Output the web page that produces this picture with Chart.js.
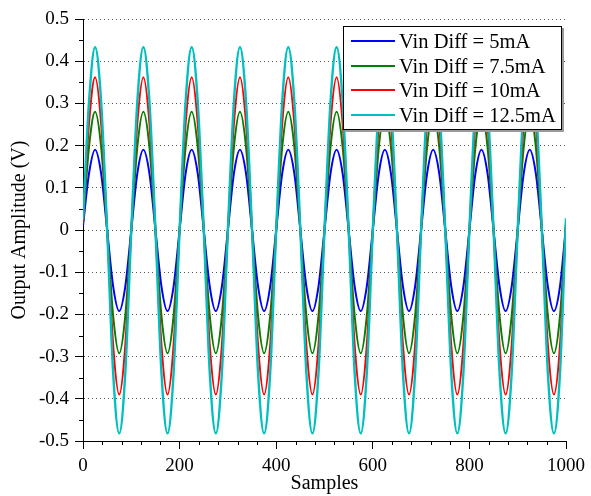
<!DOCTYPE html>
<html><head><meta charset="utf-8">
<script src="https://cdn.jsdelivr.net/npm/chart.js@4.4.0/dist/chart.umd.min.js"></script>
<style>
html,body{margin:0;padding:0;background:#fff;}
#wrap{position:relative;width:591px;height:496px;}
#legend{position:absolute;left:343px;top:26px;width:217px;height:102px;border:1px solid #000;background:#fff;box-shadow:2px 2px 0 #9a9a9a;font-family:'Liberation Serif',serif;font-size:20.5px;color:#000;}
.row{position:absolute;left:0;height:24px;line-height:24px;white-space:nowrap}
.sw{position:absolute;left:7px;top:11px;width:44px;height:2px}
.lb{position:absolute;left:55px;top:0}
</style></head>
<body><div id="wrap"><canvas id="c" width="591" height="496"></canvas><div id="legend"></div></div>
<script>
const samples = [
  0,12.5,25,37.5,50,62.5,75,87.5,
  100,112.5,125,137.5,150,162.5,175,187.5,
  200,212.5,225,237.5,250,262.5,275,287.5,
  300,312.5,325,337.5,350,362.5,375,387.5,
  400,412.5,425,437.5,450,462.5,475,487.5,
  500,512.5,525,537.5,550,562.5,575,587.5,
  600,612.5,625,637.5,650,662.5,675,687.5,
  700,712.5,725,737.5,750,762.5,775,787.5,
  800,812.5,825,837.5,850,862.5,875,887.5,
  900,912.5,925,937.5,950,962.5,975,987.5,
  1000
];
const seriesNames = ['Vin Diff = 5mA','Vin Diff = 7.5mA','Vin Diff = 10mA','Vin Diff = 12.5mA'];
const seriesColors = ['#0000ff','#008000','#ff0000','#00bfbf'];
const vin5mA = [
  0.01,0.134,0.19,0.134,0,-0.134,-0.192,-0.134,
  0,0.134,0.19,0.134,0,-0.134,-0.192,-0.134,
  0,0.134,0.19,0.134,0,-0.134,-0.192,-0.134,
  0,0.134,0.19,0.134,0,-0.134,-0.192,-0.134,
  0,0.134,0.19,0.134,0,-0.134,-0.192,-0.134,
  0,0.134,0.19,0.134,0,-0.134,-0.192,-0.134,
  0,0.134,0.19,0.134,0,-0.134,-0.192,-0.134,
  0,0.134,0.19,0.134,0,-0.134,-0.192,-0.134,
  0,0.134,0.19,0.134,0,-0.134,-0.192,-0.134,
  0,0.134,0.19,0.134,0,-0.134,-0.192,-0.134,
  0.01
];
const vin7_5mA = [
  0.015,0.197,0.28,0.197,0,-0.204,-0.292,-0.204,
  0,0.197,0.28,0.197,0,-0.204,-0.292,-0.204,
  0,0.197,0.28,0.197,0,-0.204,-0.292,-0.204,
  0,0.197,0.28,0.197,0,-0.204,-0.292,-0.204,
  0,0.197,0.28,0.197,0,-0.204,-0.292,-0.204,
  0,0.197,0.28,0.197,0,-0.204,-0.292,-0.204,
  0,0.197,0.28,0.197,0,-0.204,-0.292,-0.204,
  0,0.197,0.28,0.197,0,-0.204,-0.292,-0.204,
  0,0.197,0.28,0.197,0,-0.204,-0.292,-0.204,
  0,0.197,0.28,0.197,0,-0.204,-0.292,-0.204,
  0.015
];
const vin10mA = [
  0.02,0.253,0.362,0.253,0,-0.274,-0.39,-0.274,
  0,0.253,0.362,0.253,0,-0.274,-0.39,-0.274,
  0,0.253,0.362,0.253,0,-0.274,-0.39,-0.274,
  0,0.253,0.362,0.253,0,-0.274,-0.39,-0.274,
  0,0.253,0.362,0.253,0,-0.274,-0.39,-0.274,
  0,0.253,0.362,0.253,0,-0.274,-0.39,-0.274,
  0,0.253,0.362,0.253,0,-0.274,-0.39,-0.274,
  0,0.253,0.362,0.253,0,-0.274,-0.39,-0.274,
  0,0.253,0.362,0.253,0,-0.274,-0.39,-0.274,
  0,0.253,0.362,0.253,0,-0.274,-0.39,-0.274,
  0.02
];
const vin12_5mA = [
  0.025,0.305,0.433,0.305,0,-0.34,-0.482,-0.34,
  0,0.305,0.433,0.305,0,-0.34,-0.482,-0.34,
  0,0.305,0.433,0.305,0,-0.34,-0.482,-0.34,
  0,0.305,0.433,0.305,0,-0.34,-0.482,-0.34,
  0,0.305,0.433,0.305,0,-0.34,-0.482,-0.34,
  0,0.305,0.433,0.305,0,-0.34,-0.482,-0.34,
  0,0.305,0.433,0.305,0,-0.34,-0.482,-0.34,
  0,0.305,0.433,0.305,0,-0.34,-0.482,-0.34,
  0,0.305,0.433,0.305,0,-0.34,-0.482,-0.34,
  0,0.305,0.433,0.305,0,-0.34,-0.482,-0.34,
  0.028
];
const seriesValues = [vin5mA, vin7_5mA, vin10mA, vin12_5mA];
const xTickLabels = ['0','200','400','600','800','1000'];
const yTickLabels = ['-0.5','-0.4','-0.3','-0.2','-0.1','0','0.1','0.2','0.3','0.4','0.5'];

const FONT = "'Liberation Serif', 'Times New Roman', serif";

function isMajorX(v){ return xTickLabels.includes(String(Math.round(v))) && Math.abs(v - Math.round(v)) < 1e-6; }
function yLabel(v){
  const r = Math.round(v*10);
  if (Math.abs(v*10 - r) > 1e-6) return '';
  const s = r === 0 ? '0' : (r/10).toFixed(1);
  return yTickLabels.includes(s) ? s : '';
}

const minorTicks = {
  id: 'minorTicks',
  afterDraw(chart){
    const ctx = chart.ctx, xs = chart.scales.x, ys = chart.scales.y;
    ctx.save();
    ctx.strokeStyle = '#000'; ctx.lineWidth = 1;
    ctx.beginPath();
    xs.ticks.forEach(t => {
      if (!isMajorX(t.value)) {
        const px = Math.round(xs.getPixelForValue(t.value)) + 0.5;
        ctx.moveTo(px, xs.top); ctx.lineTo(px, xs.top + 4);
      }
    });
    ys.ticks.forEach(t => {
      if (yLabel(t.value) === '') {
        const py = Math.round(ys.getPixelForValue(t.value)) + 0.5;
        ctx.moveTo(ys.right - 4, py); ctx.lineTo(ys.right, py);
      }
    });
    ctx.stroke();
    ctx.restore();
  }
};

const datasets = seriesNames.map((name, i) => ({
  label: name,
  data: seriesValues[i],
  borderColor: seriesColors[i],
  backgroundColor: seriesColors[i],
  borderWidth: i === 3 ? 2.4 : 2,
  pointRadius: 0,
  cubicInterpolationMode: 'monotone',
  fill: false,
  order: 3 - i
}));

new Chart(document.getElementById('c'), {
  type: 'line',
  data: { labels: samples, datasets },
  plugins: [minorTicks],
  options: {
    responsive: false,
    animation: false,
    events: [],
    layout: { padding: { top: 19, right: 25, left: 0, bottom: 0 } },
    plugins: { legend: { display: false }, tooltip: { enabled: false } },
    scales: {
      x: {
        type: 'linear', min: 0, max: 1000,
        afterFit: s => { s.height = 55; },
        ticks: {
          stepSize: 40, autoSkip: false, maxRotation: 0,
          color: '#000', font: { family: FONT, size: 19 }, padding: 6,
          callback: v => isMajorX(v) ? String(Math.round(v)) : ''
        },
        grid: {
          drawOnChartArea: false, drawTicks: true, tickLength: 8,
          tickColor: c => (c.tick && isMajorX(c.tick.value)) ? '#000' : 'rgba(0,0,0,0)'
        },
        border: { display: true, color: '#000', width: 1 },
        title: { display: true, text: 'Samples', color: '#000', font: { family: FONT, size: 20, lineHeight: 1.2 }, padding: { top: 0, bottom: 0 } }
      },
      y: {
        min: -0.5, max: 0.5,
        afterFit: s => { s.width = 83; },
        ticks: {
          stepSize: 0.05, autoSkip: false,
          color: '#000', font: { family: FONT, size: 19 }, padding: 6,
          callback: v => yLabel(v)
        },
        grid: {
          drawOnChartArea: true, drawTicks: true, tickLength: 8,
          color: c => (c.tick && yLabel(c.tick.value) !== '' && c.tick.value > -0.49) ? '#555' : 'rgba(0,0,0,0)',
          tickColor: c => (c.tick && yLabel(c.tick.value) !== '') ? '#000' : 'rgba(0,0,0,0)'
        },
        border: { display: true, color: '#000', width: 1, dash: [1, 3] },
        title: { display: true, text: 'Output Amplitude (V)', color: '#000', font: { family: FONT, size: 20, lineHeight: 1.2 }, padding: { top: 8, bottom: 0 } }
      }
    }
  }
});

const lg = document.getElementById('legend');
seriesNames.forEach((name, i) => {
  const row = document.createElement('div');
  row.className = 'row';
  row.style.top = (2 + i * 24.7) + 'px';
  const sw = document.createElement('span');
  sw.className = 'sw'; sw.style.background = seriesColors[i];
  const lb = document.createElement('span');
  lb.className = 'lb'; lb.textContent = name;
  row.appendChild(sw); row.appendChild(lb);
  lg.appendChild(row);
});
</script>
</body></html>
